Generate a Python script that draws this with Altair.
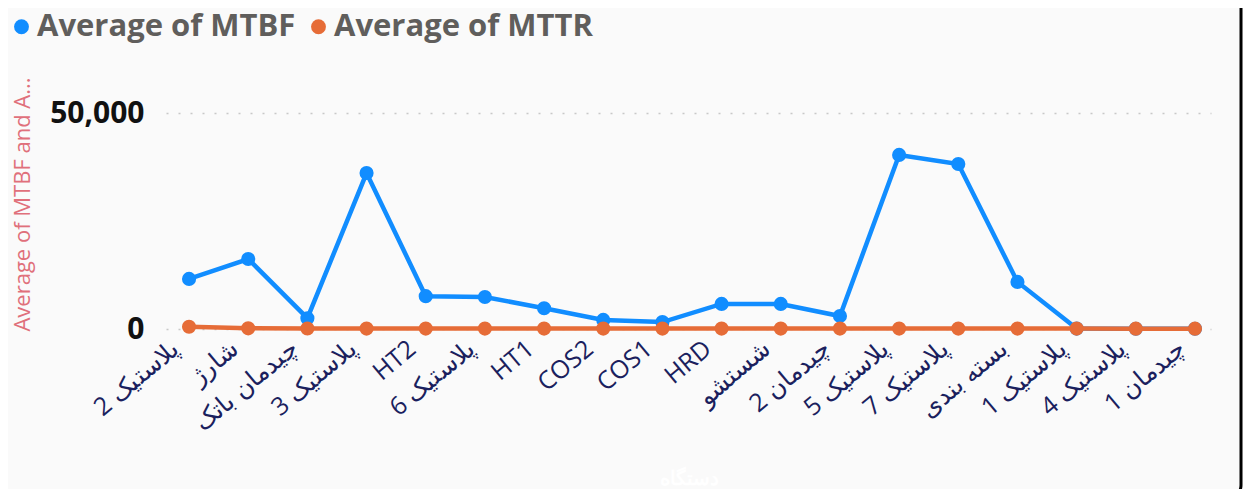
import altair as alt
import pandas as pd

machines = ["پلاستیک 2", "شارژ", "چیدمان باتک", "پلاستیک 3", "HT2", "پلاستیک 6", "HT1",
            "COS2", "COS1", "HRD", "شستشو", "چیدمان 2", "پلاستیک 5", "پلاستیک 7",
            "بسته بندی", "پلاستیک 1", "پلاستیک 4", "چیدمان 1"]
mtbf = [11600, 16200, 2500, 36100, 7600, 7400, 4800, 2100, 1600, 5800, 5800, 3000,
        40300, 38200, 10900, 100, 60, 50]
mttr = [520, 150, 120, 100, 100, 100, 100, 100, 100, 100, 100, 100, 100, 100, 100, 90, 80, 80]
series = ["Average of MTBF", "Average of MTTR"]
colors = ["#118DFF", "#E66C37"]

rows = []
for i, m in enumerate(machines):
    rows.append({"machine": m, "series": series[0], "value": mtbf[i]})
    rows.append({"machine": m, "series": series[1], "value": mttr[i]})
df = pd.DataFrame(rows)

FONT = "Open Sans"

x_enc = alt.X(
    "machine:N", sort=machines,
    scale=alt.Scale(type="point", padding=0.33, align=0.59),
    axis=alt.Axis(
        title="دستگاه", titleColor="#FFFFFF", titleFontSize=20, titleFontWeight="bold",
        titleY=149, titleBaseline="middle",
        labelAngle=-40, labelAlign="right", labelBaseline="middle",
        labelFontSize=25, labelColor="#1B1F5E", labelFont=FONT,
        labelPadding=16, labelOffset=-14,
        domain=False, ticks=False, grid=False, labelOverlap=False, labelLimit=300,
    ),
)
y_enc = alt.Y(
    "value:Q",
    scale=alt.Scale(domain=[0, 50000], nice=False),
    axis=alt.Axis(
        values=[0, 50000], format=",.0f",
        title="Average of MTBF and A...", titleColor="#E0707B", titleFontSize=22,
        titleFontWeight="normal", titleFont=FONT, titleAngle=-90, titleX=-144, titleY=91,
        titleAlign="center", titleBaseline="middle",
        labelFontSize=30, labelFontWeight="bold", labelColor="#111111", labelFont=FONT,
        labelPadding=22, domain=False, ticks=False,
        grid=True, gridColor="#C8C8C8", gridDash=[2, 10], gridWidth=1.5,
    ),
)
color_enc = alt.Color(
    "series:N", scale=alt.Scale(domain=series, range=colors),
    legend=alt.Legend(
        title=None, orient="none", legendX=-160, legendY=-102, direction="horizontal",
        symbolType="circle", symbolSize=220, symbolStrokeWidth=0, symbolOpacity=1,
        labelFontSize=31, labelFontWeight="bold", labelColor="#605E5C", labelFont=FONT,
        labelOffset=0, columnPadding=7, labelLimit=400,
    ),
)

base = alt.Chart(df)
lines = base.mark_line(strokeWidth=4.5).encode(
    x=x_enc, y=y_enc, color=color_enc
)
points = base.mark_circle(size=200, opacity=1).encode(
    x=x_enc, y=y_enc, color=color_enc
)

border_df = pd.DataFrame({"k": [0]})
border = alt.Chart(border_df).mark_rect(
    fill=None, stroke="#000000", strokeWidth=3, cornerRadius=14
).encode(
    x=alt.value(-400), x2=alt.value(1075), y=alt.value(-400), y2=alt.value(386)
)

chart = alt.layer(
    lines.transform_filter(alt.datum.series == series[0]),
    points.transform_filter(alt.datum.series == series[0]),
    lines.transform_filter(alt.datum.series == series[1]),
    points.transform_filter(alt.datum.series == series[1]),
    border,
).properties(
    width=1045, height=216,
    autosize=alt.AutoSizeParams(type="none"),
    padding={"left": 158, "top": 105, "right": 32, "bottom": 160},
    background="#FAFAFA",
).configure(font=FONT).configure_view(strokeWidth=0, stroke="transparent")

chart.save("out.html", embed_options={"renderer": "svg", "actions": False})
